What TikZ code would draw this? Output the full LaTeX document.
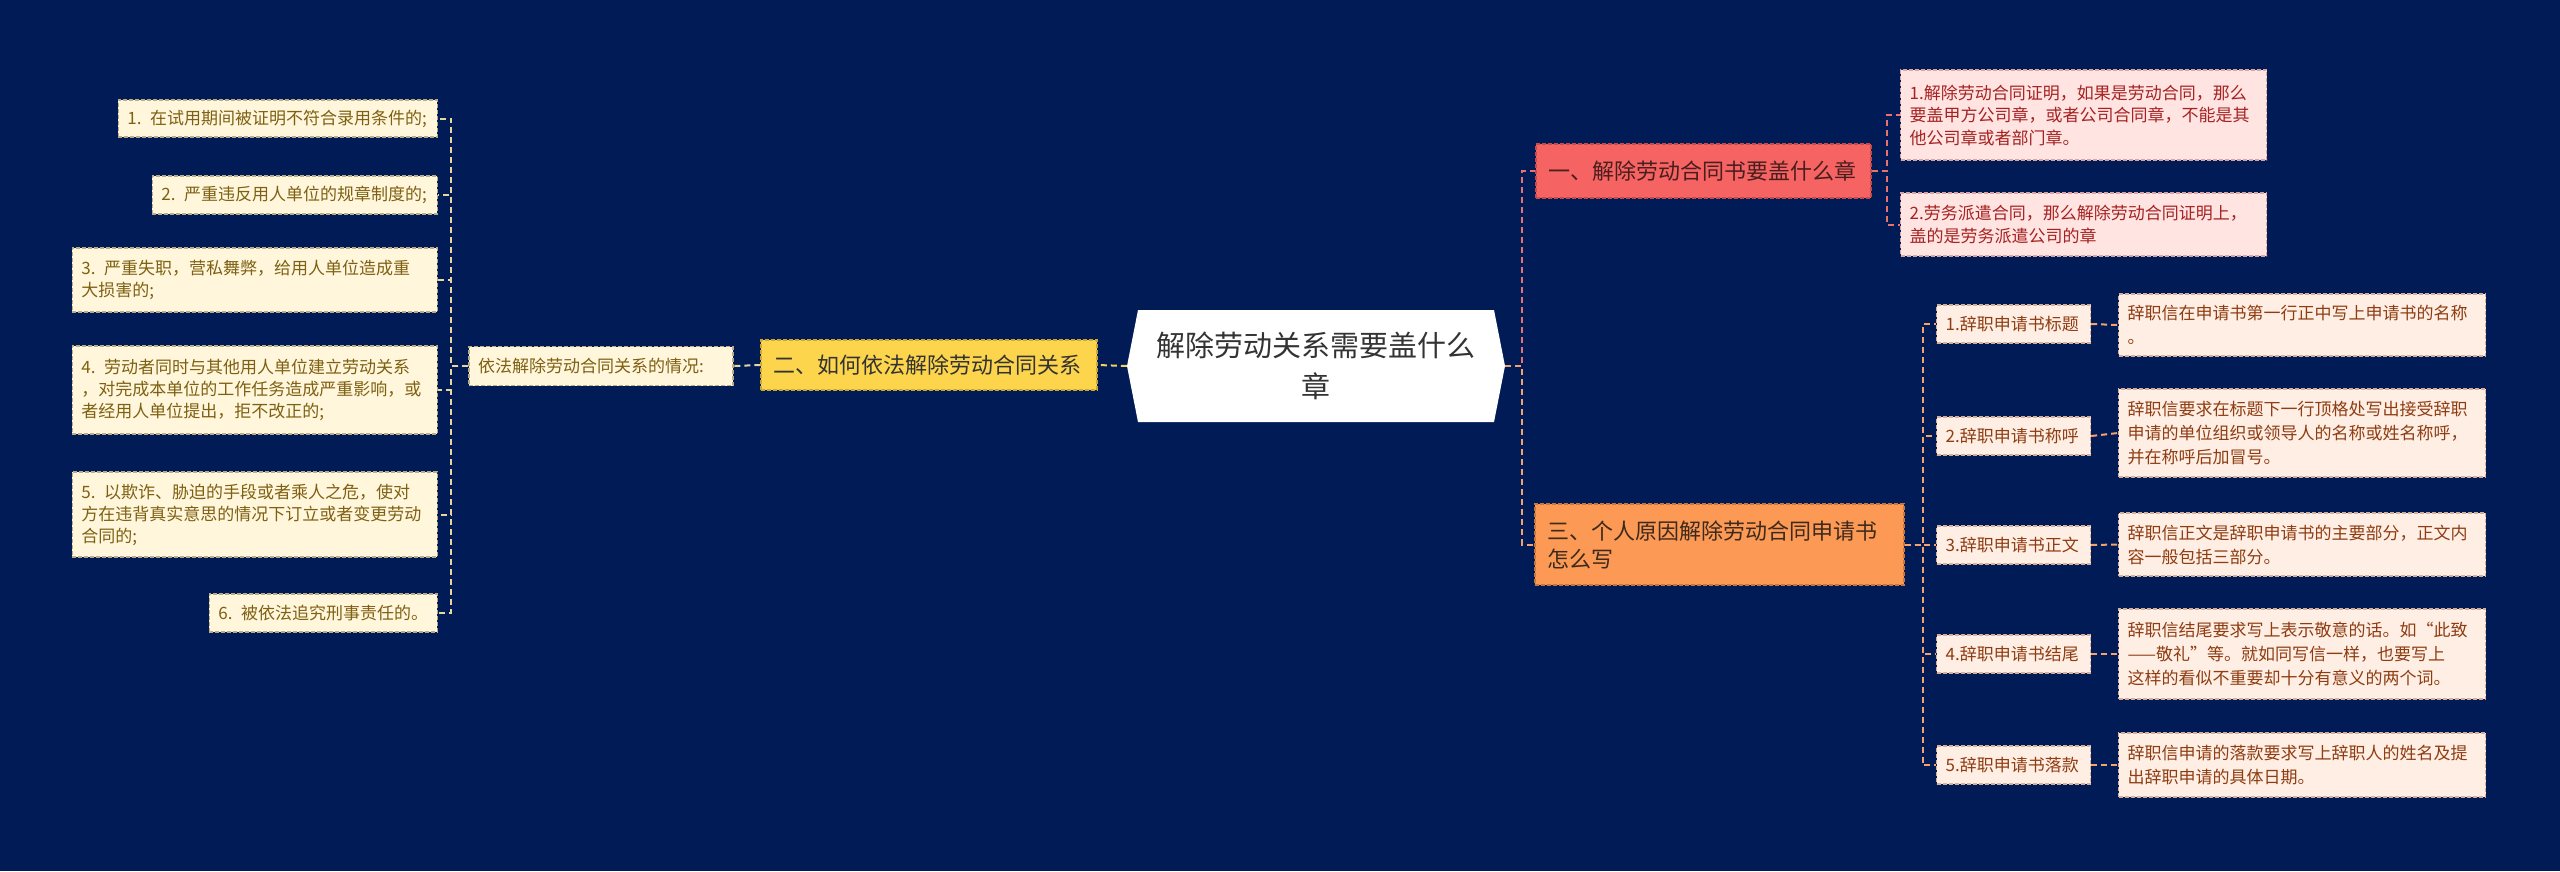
\documentclass[tikz,border=0pt]{standalone}
\usepackage{fontspec}
\setmainfont{Noto Sans CJK SC}
\definecolor{bg}{HTML}{011B56}
\definecolor{lfill}{HTML}{FFF6DC}
\definecolor{lborder}{HTML}{B9AC86}
\definecolor{ltext}{HTML}{7E6012}
\definecolor{lline}{HTML}{E8D69C}
\definecolor{yfill}{HTML}{FDD54C}
\definecolor{yborder}{HTML}{C9A636}
\definecolor{yline}{HTML}{F3D45A}
\definecolor{rfill}{HTML}{F56462}
\definecolor{rborder}{HTML}{C84A48}
\definecolor{rtext}{HTML}{4A1E1E}
\definecolor{pfill}{HTML}{FFE4E2}
\definecolor{pborder}{HTML}{D9A5A3}
\definecolor{ptext}{HTML}{A52222}
\definecolor{rline}{HTML}{E8726E}
\definecolor{ofill}{HTML}{FC9A55}
\definecolor{oborder}{HTML}{C97738}
\definecolor{otext}{HTML}{3D2A1C}
\definecolor{efill}{HTML}{FFEEE3}
\definecolor{eborder}{HTML}{D4B09A}
\definecolor{etext}{HTML}{8E3C12}
\definecolor{oline}{HTML}{F3A26E}
\definecolor{ctext}{HTML}{333333}
\begin{document}
\begin{tikzpicture}[x=1pt,y=-1pt,
  box/.style={inner ysep=0pt, inner xsep=9pt, align=left, line width=1.2pt, dash pattern=on 4pt off 2pt},
  lbox/.style={box, fill=lfill, draw=lborder, text=ltext, font=\fontsize{17}{22}\selectfont},
  ybox/.style={box, fill=yfill, draw=yborder, text=ctext, font=\fontsize{22}{28}\selectfont, inner xsep=12pt},
  rbox/.style={box, fill=rfill, draw=rborder, text=rtext, font=\fontsize{22}{28}\selectfont, inner xsep=12pt},
  pbox/.style={box, fill=pfill, draw=pborder, text=ptext, font=\fontsize{17}{22.5}\selectfont},
  obox/.style={box, fill=ofill, draw=oborder, text=otext, font=\fontsize{22}{28}\selectfont, inner xsep=12pt},
  ebox/.style={box, fill=efill, draw=eborder, text=etext, font=\fontsize{17}{24}\selectfont},
  cnode/.style={inner sep=0pt, align=center, text=ctext, font=\fontsize{29}{41}\selectfont, minimum width=378pt, minimum height=112pt},
  conn/.style={line width=2pt, dash pattern=on 6pt off 4pt},
  llink/.style={conn, draw=lline},
  ylink/.style={conn, draw=yline},
  rlink/.style={conn, draw=rline},
  olink/.style={conn, draw=oline}
]
\fill[bg] (0,0) rectangle (2560,871);
\useasboundingbox (0,0) rectangle (2560,871);

% central node
\fill[white] (1127,366) -- (1138,310) -- (1494,310) -- (1505,366) -- (1494,422) -- (1138,422) -- cycle;
\node[cnode] (c) at (1316,366) {解除劳动关系需要盖什么\\章};

% left branch
\node[ybox, text width=312pt, minimum height=50pt] (y) at (929,365) {二、如何依法解除劳动合同关系};
\node[lbox, text width=246pt, minimum height=39pt] (sit) at (601,366) {依法解除劳动合同关系的情况:};

\node[lbox, text width=301pt, minimum height=37pt, anchor=east] (l1) at (438,118.5) {1. 在试用期间被证明不符合录用条件的;};
\node[lbox, text width=267pt, minimum height=38pt, anchor=east] (l2) at (438,195) {2. 严重违反用人单位的规章制度的;};
\node[lbox, text width=347pt, minimum height=64pt, anchor=east] (l3) at (438,280) {3. 严重失职，营私舞弊，给用人单位造成重\\大损害的;};
\node[lbox, text width=347pt, minimum height=88pt, anchor=east] (l4) at (438,390) {4. 劳动者同时与其他用人单位建立劳动关系\\，对完成本单位的工作任务造成严重影响，或\\者经用人单位提出，拒不改正的;};
\node[lbox, text width=347pt, minimum height=85pt, anchor=east] (l5) at (438,514.5) {5. 以欺诈、胁迫的手段或者乘人之危，使对\\方在违背真实意思的情况下订立或者变更劳动\\合同的;};
\node[lbox, text width=210pt, minimum height=38pt, anchor=east] (l6) at (438,613) {6. 被依法追究刑事责任的。};

\draw[ylink] (c.west) -- (y.east);
\draw[llink] (y.west) -- (sit.east);
\foreach \n in {l1,l2,l3,l4,l5,l6} \draw[llink] (sit.west) -- ++(-17,0) |- (\n.east);

% right branch 1
\node[rbox, text width=311pt, minimum height=54pt] (r) at (1703.5,171) {一、解除劳动合同书要盖什么章};
\node[pbox, text width=348pt, minimum height=90pt, anchor=west] (p1) at (1900,115) {1.解除劳动合同证明，如果是劳动合同，那么\\要盖甲方公司章，或者公司合同章，不能是其\\他公司章或者部门章。};
\node[pbox, text width=348pt, minimum height=63pt, anchor=west] (p2) at (1900,224.5) {2.劳务派遣合同，那么解除劳动合同证明上，\\盖的是劳务派遣公司的章};

% right branch 2
\node[obox, text width=345pt, minimum height=81pt] (o) at (1719.5,544.5) {三、个人原因解除劳动合同申请书\\怎么写};

\node[ebox, text width=136pt, minimum height=38pt, anchor=west] (s1) at (1936,324) {1.辞职申请书标题};
\node[ebox, text width=136pt, minimum height=38pt, anchor=west] (s2) at (1936,436) {2.辞职申请书称呼};
\node[ebox, text width=136pt, minimum height=38pt, anchor=west] (s3) at (1936,545) {3.辞职申请书正文};
\node[ebox, text width=136pt, minimum height=38pt, anchor=west] (s4) at (1936,654) {4.辞职申请书结尾};
\node[ebox, text width=136pt, minimum height=38pt, anchor=west] (s5) at (1936,765) {5.辞职申请书落款};

\node[ebox, text width=349pt, minimum height=62pt, anchor=west] (d1) at (2118,325) {辞职信在申请书第一行正中写上申请书的名称\\。};
\node[ebox, text width=349pt, minimum height=88pt, anchor=west] (d2) at (2118,433) {辞职信要求在标题下一行顶格处写出接受辞职\\申请的单位组织或领导人的名称或姓名称呼，\\并在称呼后加冒号。};
\node[ebox, text width=349pt, minimum height=63pt, anchor=west] (d3) at (2118,544.5) {辞职信正文是辞职申请书的主要部分，正文内\\容一般包括三部分。};
\node[ebox, text width=349pt, minimum height=90pt, anchor=west] (d4) at (2118,654) {辞职信结尾要求写上表示敬意的话。如“此致\\——敬礼”等。就如同写信一样，也要写上\\这样的看似不重要却十分有意义的两个词。};
\node[ebox, text width=349pt, minimum height=64pt, anchor=west] (d5) at (2118,765) {辞职信申请的落款要求写上辞职人的姓名及提\\出辞职申请的具体日期。};

\draw[rlink] (c.east) -- ++(17,0) |- (r.west);
\draw[olink] (c.east) -- ++(17,0) |- (o.west);
\foreach \n in {p1,p2} \draw[rlink] (r.east) -- ++(15,0) |- (\n.west);
\foreach \n in {s1,s2,s3,s4,s5} \draw[olink] (o.east) -- ++(18,0) |- (\n.west);
\foreach \i in {1,2,3,4,5} \draw[olink] (s\i.east) -- (d\i.west);
\end{tikzpicture}
\end{document}
